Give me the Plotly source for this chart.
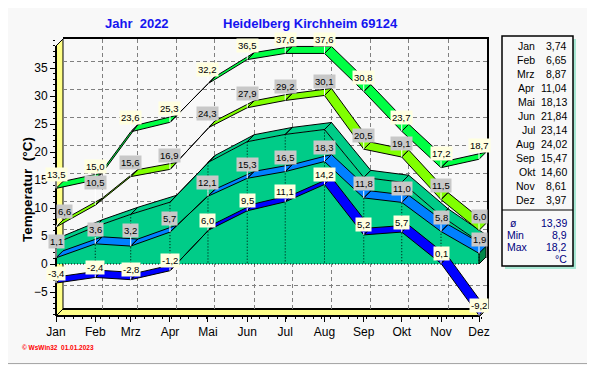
import pandas as pd
import plotly.graph_objects as go

# ---------------- data ----------------
months = ['Jan', 'Feb', 'Mrz', 'Apr', 'Mai', 'Jun', 'Jul', 'Aug', 'Sep', 'Okt', 'Nov', 'Dez']
month_dates = ['2022-01-01', '2022-02-01', '2022-03-01', '2022-04-01', '2022-05-01', '2022-06-01',
               '2022-07-01', '2022-08-01', '2022-09-01', '2022-10-01', '2022-11-01', '2022-12-01']
abs_max = [13.5, 15.0, 23.6, 25.3, 32.2, 36.5, 37.6, 37.6, 30.8, 23.7, 17.2, 18.7]
mean_max = [6.6, 10.5, 15.6, 16.9, 24.3, 27.9, 29.2, 30.1, 20.5, 19.1, 11.5, 6.0]
mean_temp = [3.74, 6.65, 8.87, 11.04, 18.13, 21.84, 23.14, 24.02, 15.47, 14.60, 8.61, 3.97]
mean_min = [1.1, 3.6, 3.2, 5.7, 12.1, 15.3, 16.5, 18.3, 11.8, 11.0, 5.8, 1.9]
abs_min = [-3.4, -2.4, -2.8, -1.2, 6.0, 9.5, 11.1, 14.2, 5.2, 5.7, 0.1, -9.2]
summary_labels = ['ø', 'Min', 'Max']
summary_values = [13.39, 8.9, 18.2]
y_ticks = [-5, 0, 5, 10, 15, 20, 25, 30, 35]

# ---------------- geometry / style ----------------
FONT = 'Liberation Sans, Arial, sans-serif'
BG = '#F8F8F8'
PAGE_OFF = 8                           # browser body margin
FIG_W, FIG_H = 595 - PAGE_OFF, 365 - PAGE_OFF
L, R, T, B = 56, 487, 39, 316          # plot area in screen px
DEPTH = 7                              # 3D depth offset in px
PX_PER_DAY = 423 / 334
PX_PER_DEG = 5.6
Y0_PX = 264

t0 = pd.Timestamp(month_dates[0])
dts = [pd.Timestamp(d) for d in month_dates]
DX = pd.Timedelta(days=DEPTH / PX_PER_DAY)
DY = DEPTH / PX_PER_DEG


def ds(ts):
    return ts.strftime('%Y-%m-%d %H:%M:%S')


def day_date(d):
    return ds(t0 + pd.Timedelta(days=d))


def px_x(px):
    return (px - L) / (R - L)


def px_y(py):
    return (B - py) / (B - T)


front_x_range = [day_date(0), day_date((R - L) / PX_PER_DAY)]
front_y_range = [(Y0_PX - B) / PX_PER_DEG, (Y0_PX - T) / PX_PER_DEG]
back_x_range = [day_date(0), day_date((R - L - DEPTH) / PX_PER_DAY)]
back_y_range = [front_y_range[0], front_y_range[1] - DY]


def ribbon(values, color):
    xs, ys = [], []
    for i in range(len(dts) - 1):
        x0, x1 = dts[i], dts[i + 1]
        v0, v1 = values[i], values[i + 1]
        xs += [ds(x0), ds(x1), ds(x1 + DX), ds(x0 + DX), ds(x0), None]
        ys += [v0, v1, v1 + DY, v0 + DY, v0, None]
    return go.Scatter(x=xs, y=ys, mode='lines', fill='toself', fillcolor=color,
                      line=dict(color='black', width=1), xaxis='x2', yaxis='y2',
                      hoverinfo='skip', showlegend=False)


fig = go.Figure()
# empty trace for back-wall grid subplot
fig.add_trace(go.Scatter(x=[], y=[], xaxis='x', yaxis='y', showlegend=False))

TEAL = '#00CC88'
# mean temperature as 3D area: front face
fig.add_trace(go.Scatter(
    x=[ds(d) for d in dts] + [ds(dts[-1]), ds(dts[0])],
    y=mean_temp + [0, 0], mode='lines', fill='toself', fillcolor=TEAL,
    line=dict(width=0, color=TEAL), xaxis='x2', yaxis='y2', hoverinfo='skip', showlegend=False))
# top face
fig.add_trace(ribbon(mean_temp, TEAL))
# end face
fig.add_trace(go.Scatter(
    x=[ds(dts[-1]), ds(dts[-1] + DX), ds(dts[-1] + DX), ds(dts[-1]), ds(dts[-1])],
    y=[mean_temp[-1], mean_temp[-1] + DY, DY, 0, mean_temp[-1]], mode='lines', fill='toself',
    fillcolor='#00884A', line=dict(color='black', width=1), xaxis='x2', yaxis='y2',
    hoverinfo='skip', showlegend=False))
# dotted month lines on the front face + dotted base
vx, vy = [], []
for d, v in zip(dts, mean_temp):
    vx += [ds(d), ds(d), None]
    vy += [v, 0, None]
fig.add_trace(go.Scatter(x=vx, y=vy, mode='lines', line=dict(color='black', width=1, dash='1px,2px'),
                         xaxis='x2', yaxis='y2', hoverinfo='skip', showlegend=False))
fig.add_trace(go.Scatter(x=[ds(dts[0]), ds(dts[-1])], y=[0, 0], mode='lines',
                         line=dict(color='black', width=1, dash='1px,2px'),
                         xaxis='x2', yaxis='y2', hoverinfo='skip', showlegend=False))

fig.add_trace(ribbon(mean_min, '#0080FF'))
fig.add_trace(ribbon(abs_min, '#0000FF'))
fig.add_trace(ribbon(mean_max, '#80FF00'))
fig.add_trace(ribbon(abs_max, '#00FF44'))

# ---------------- value labels ----------------
annotations = []
label_specs = [('amax', abs_max, '#FFFFE0', -14), ('mmax', mean_max, '#C8C8C8', -14),
               ('mmin', mean_min, '#C8C8C8', -14), ('amin', abs_min, '#FFFFE0', -10)]
# label placement nudges (series, month index) -> (ax, ay) in px, to avoid overlaps like the original
nudges = {('mmax', 0): (8, -16), ('mmax', 1): (0, -23), ('mmin', 0): (0, -16), ('mmin', 2): (0, -16)}
for key, values, bg, ay in label_specs:
    for i, (d, v) in enumerate(zip(dts, values)):
        nax, nay = nudges.get((key, i), (0, ay))
        annotations.append(dict(
            x=ds(d), y=v, xref='x2', yref='y2', text=f'{v:.1f}'.replace('.', ','),
            showarrow=True, arrowhead=0, arrowwidth=1, arrowcolor='white', ax=nax, ay=nay,
            standoff=0, bgcolor=bg, borderpad=1, font=dict(family=FONT, size=9.5, color='black')))


def ptext(px, py, text, size, color, xanchor='center', angle=0):
    return dict(x=px_x(px), y=px_y(py), xref='paper', yref='paper', showarrow=False,
                xanchor=xanchor, yanchor='middle', textangle=angle, text=text,
                font=dict(family=FONT, size=size, color=color))


# ---------------- titles ----------------
annotations.append(ptext(137, 24, '<b>Jahr\u00a0\u00a02022</b>', 13, '#1414F0'))
annotations.append(ptext(310, 24, '<b>Heidelberg Kirchheim 69124</b>', 13, '#1414F0'))
annotations.append(ptext(27, 190, '<b>Temperatur\u00a0\u00a0(°C)</b>', 13.5, 'black', angle=-90))
annotations.append(ptext(20, 347, '<b>© WsWin32\u00a0\u00a001.01.2023</b>', 6.5, '#FF0000', xanchor='left'))

# ---------------- side table ----------------
for i, (m, v) in enumerate(zip(months, mean_temp)):
    py = 46 + 14 * i
    annotations.append(ptext(537, py, m, 10.5, 'black', xanchor='right'))
    annotations.append(ptext(569, py, f'{v:.2f}'.replace('.', ','), 10.5, 'black', xanchor='right'))
NAVY = '#000080'
sum_fmt = ['{:.2f}', '{:.1f}', '{:.1f}']
for i, (lab, v, f) in enumerate(zip(summary_labels, summary_values, sum_fmt)):
    py = 223 + 12 * i
    lx = 508 if lab == 'ø' else 505
    annotations.append(ptext(lx, py, lab, 10.5, NAVY, xanchor='left'))
    annotations.append(ptext(569, py, f.format(v).replace('.', ','), 10.5, NAVY, xanchor='right'))
annotations.append(ptext(569, 259, '°C', 10.5, NAVY, xanchor='right'))


# ---------------- shapes (walls, frame, table) ----------------
def P(pts):
    return 'M ' + ' L '.join(f'{px_x(a):.5f} {px_y(b):.5f}' for a, b in pts) + ' Z'


YELLOW = '#FFFF88'
shapes = [
    # left wall
    dict(type='path', xref='paper', yref='paper', layer='below', path=P([(L, B), (L, 46), (L + DEPTH, T), (L + DEPTH, B - DEPTH)]),
         fillcolor=YELLOW, line=dict(color='black', width=1)),
    # floor
    dict(type='path', xref='paper', yref='paper', layer='below', path=P([(L, B), (480, B), (R, B - DEPTH), (L + DEPTH, B - DEPTH)]),
         fillcolor=YELLOW, line=dict(color='black', width=1)),
    dict(type='line', xref='paper', yref='paper', layer='below', x0=px_x(L + DEPTH), y0=px_y(B - DEPTH),
         x1=px_x(R), y1=px_y(B - DEPTH), line=dict(color='black', width=2)),
    # front frame lines
    dict(type='line', xref='paper', yref='paper', layer='above', x0=px_x(L), y0=px_y(B), x1=px_x(480), y1=px_y(B),
         line=dict(color='black', width=2)),
    dict(type='line', xref='paper', yref='paper', layer='above', x0=px_x(L), y0=px_y(B), x1=px_x(L), y1=px_y(46),
         line=dict(color='black', width=2)),
    dict(type='line', xref='paper', yref='paper', layer='above', x0=px_x(L), y0=px_y(46), x1=px_x(L + DEPTH), y1=px_y(T),
         line=dict(color='black', width=1)),
    # table shadow + box
    dict(type='rect', xref='paper', yref='paper', layer='below', x0=px_x(505), y0=px_y(269), x1=px_x(576), y1=px_y(39),
         fillcolor='#A8E8D4', line=dict(width=0)),
    dict(type='rect', xref='paper', yref='paper', layer='below', x0=px_x(502), y0=px_y(266), x1=px_x(573), y1=px_y(36),
         fillcolor=BG, line=dict(color='black', width=1.5)),
    dict(type='line', xref='paper', yref='paper', layer='below', x0=px_x(502), y0=px_y(210), x1=px_x(573), y1=px_y(210),
         line=dict(color='black', width=1)),
    # image border
    dict(type='line', xref='paper', yref='paper', layer='below', x0=px_x(0), y0=px_y(363.5), x1=px_x(595), y1=px_y(363.5),
         line=dict(color='#A8A8A8', width=1)),
    dict(type='line', xref='paper', yref='paper', layer='below', x0=px_x(593.5), y0=px_y(0), x1=px_x(593.5), y1=px_y(364),
         line=dict(color='#C8C8C8', width=1)),
]

tickfont = dict(family=FONT, size=12, color='black')
fig.update_layout(
    width=FIG_W, height=FIG_H,
    margin=dict(l=L - PAGE_OFF, r=FIG_W - (R - PAGE_OFF), t=T - PAGE_OFF, b=FIG_H - (B - PAGE_OFF), pad=0),
    paper_bgcolor=BG, plot_bgcolor='rgba(0,0,0,0)',
    showlegend=False,
    xaxis=dict(type='date', domain=[px_x(L + DEPTH), 1], range=back_x_range, anchor='y', side='top',
               tickvals=month_dates, showticklabels=False, ticks='', showgrid=True,
               gridcolor='#808080', griddash='4px,3px', gridwidth=1, zeroline=False,
               showline=True, linecolor='black', linewidth=2, fixedrange=True, automargin=False),
    yaxis=dict(domain=[px_y(B - DEPTH), 1], range=back_y_range, anchor='x', side='right',
               tickvals=y_ticks, showticklabels=False, ticks='', showgrid=True,
               gridcolor='#808080', griddash='4px,3px', gridwidth=1, zeroline=False,
               showline=True, linecolor='black', linewidth=2, fixedrange=True, automargin=False),
    xaxis2=dict(type='date', domain=[0, 1], range=front_x_range, anchor='y2',
                tickvals=month_dates, ticktext=months, ticks='outside', ticklen=5, tickcolor='black',
                tickfont=tickfont, showgrid=False, zeroline=False, showline=False, fixedrange=True,
                automargin=False,
                minor=dict(ticks='outside', ticklen=2, tickcolor='black', dtick=7 * 86400000,
                           tick0=month_dates[0], showgrid=False)),
    yaxis2=dict(domain=[0, 1], range=front_y_range, anchor='x2', tickvals=y_ticks,
                ticks='outside', ticklen=5, tickcolor='black', tickfont=tickfont,
                showgrid=False, zeroline=False, showline=False, fixedrange=True, automargin=False,
                minor=dict(ticks='outside', ticklen=2, tickcolor='black', dtick=1, tick0=0, showgrid=False)),
    annotations=annotations,
    shapes=shapes,
)

fig.write_html('out.html')
